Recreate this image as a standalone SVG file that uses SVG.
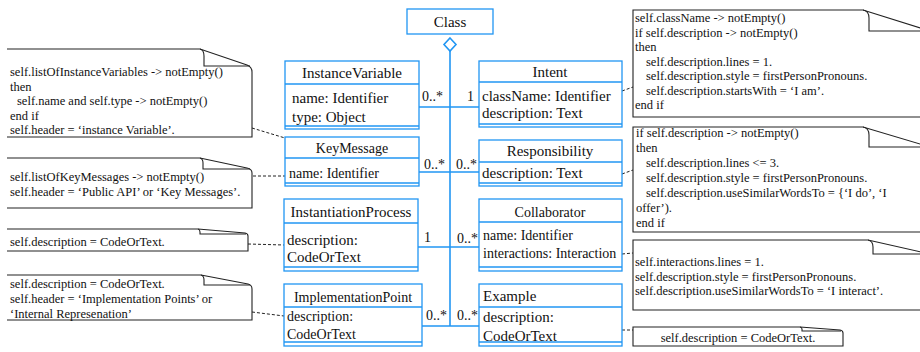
<svg xmlns="http://www.w3.org/2000/svg" width="920" height="352" viewBox="0 0 920 352">
<style>
.box{fill:#fff;stroke:#2196F3;stroke-width:1.3}
.sep{stroke:#2196F3;stroke-width:1.3}
.t15{font-family:"Liberation Serif","Times New Roman",serif;font-size:15px;fill:#111}
.t14{font-family:"Liberation Serif","Times New Roman",serif;font-size:14px;fill:#111}
.c{text-anchor:middle}
.note{fill:#fff;stroke:#222;stroke-width:1.1}
.fold{fill:none;stroke:#222;stroke-width:1.1}
.nt{font-family:"Liberation Serif","Times New Roman",serif;font-size:12.5px;fill:#111}
.assoc{stroke:#2196F3;stroke-width:1.6;fill:none}
.dash{stroke:#222;stroke-width:1;stroke-dasharray:3,2;fill:none}
</style>
<rect width="920" height="352" fill="#fff"/>

<g id="connectors">
<line class="assoc" x1="450" y1="51" x2="450" y2="326"/>
<polygon points="450,38 456,44.5 450,51 444,44.5" fill="#fff" stroke="#2196F3" stroke-width="1.6"/>
<line class="assoc" x1="419" y1="107" x2="479" y2="107"/>
<line class="assoc" x1="419" y1="172" x2="479" y2="172"/>
<line class="assoc" x1="418" y1="247" x2="479" y2="247"/>
<line class="assoc" x1="422" y1="326" x2="479" y2="326"/>
<text class="t14" x="422" y="101">0..*</text>
<text class="t14" x="467" y="101">1</text>
<text class="t14" x="424" y="169">0..*</text>
<text class="t14" x="456" y="169">0..*</text>
<text class="t14" x="424" y="242">1</text>
<text class="t14" x="457" y="243">0..*</text>
<text class="t14" x="426" y="320">0..*</text>
<text class="t14" x="457" y="320">0..*</text>
<line class="dash" x1="252" y1="128" x2="285" y2="138"/>
<line class="dash" x1="253" y1="176" x2="285" y2="176"/>
<line class="dash" x1="248" y1="244" x2="284" y2="245"/>
<line class="dash" x1="252" y1="312" x2="284" y2="316"/>
<line class="dash" x1="622" y1="91" x2="633" y2="87"/>
<line class="dash" x1="622" y1="174" x2="633" y2="170"/>
<line class="dash" x1="622" y1="254" x2="633" y2="253"/>
<line class="dash" x1="622" y1="330" x2="633" y2="330"/>
</g>

<g id="Class">
<rect class="box" x="407" y="9" width="86" height="25"/>
<text class="t15 c" x="450" y="27">Class</text>
</g>

<g id="InstanceVariable">
<rect class="box" x="285" y="61" width="134" height="68"/>
<line class="sep" x1="285" y1="84" x2="419" y2="84"/>
<line class="sep" x1="285" y1="126" x2="419" y2="126"/>
<text class="t15 c" x="352" y="78">InstanceVariable</text>
<text class="t15" x="292" y="103">name: Identifier</text>
<text class="t15" x="292" y="122">type: Object</text>
</g>

<g id="Intent">
<rect class="box" x="479" y="61" width="143" height="66"/>
<line class="sep" x1="479" y1="82" x2="622" y2="82"/>
<line class="sep" x1="479" y1="124" x2="622" y2="124"/>
<text class="t15 c" x="550" y="77">Intent</text>
<text class="t15" x="482" y="101">className: Identifier</text>
<text class="t15" x="482" y="118">description: Text</text>
</g>

<g id="KeyMessage">
<rect class="box" x="285" y="137" width="134" height="49"/>
<line class="sep" x1="285" y1="158" x2="419" y2="158"/>
<line class="sep" x1="285" y1="183" x2="419" y2="183"/>
<text class="t14 c" x="352" y="153">KeyMessage</text>
<text class="t14" x="289" y="178">name: Identifier</text>
</g>

<g id="Responsibility">
<rect class="box" x="479" y="140" width="143" height="46"/>
<line class="sep" x1="479" y1="162" x2="622" y2="162"/>
<line class="sep" x1="479" y1="183" x2="622" y2="183"/>
<text class="t15 c" x="550" y="156">Responsibility</text>
<text class="t15" x="482" y="178">description: Text</text>
</g>

<g id="InstantiationProcess">
<rect class="box" x="284" y="199" width="134" height="72"/>
<line class="sep" x1="284" y1="223" x2="418" y2="223"/>
<line class="sep" x1="284" y1="267" x2="418" y2="267"/>
<text class="t15 c" x="351" y="217">InstantiationProcess</text>
<text class="t15" x="287" y="245">description:</text>
<text class="t15" x="287" y="262">CodeOrText</text>
</g>

<g id="Collaborator">
<rect class="box" x="479" y="199" width="143" height="72"/>
<line class="sep" x1="479" y1="222" x2="622" y2="222"/>
<line class="sep" x1="479" y1="267" x2="622" y2="267"/>
<text class="t14 c" x="550" y="217">Collaborator</text>
<text class="t14" x="483" y="240">name: Identifier</text>
<text class="t14" x="483" y="258">interactions: Interaction</text>
</g>

<g id="ImplementationPoint">
<rect class="box" x="284" y="284" width="138" height="62"/>
<line class="sep" x1="284" y1="307" x2="422" y2="307"/>
<line class="sep" x1="284" y1="342" x2="422" y2="342"/>
<text class="t14 c" x="353" y="302">ImplementationPoint</text>
<text class="t14" x="287" y="321">description:</text>
<text class="t14" x="287" y="339">CodeOrText</text>
</g>

<g id="Example">
<rect class="box" x="479" y="284" width="143" height="62"/>
<line class="sep" x1="479" y1="307" x2="622" y2="307"/>
<line class="sep" x1="479" y1="342" x2="622" y2="342"/>
<text class="t15" x="483" y="301">Example</text>
<text class="t15" x="483" y="322">description:</text>
<text class="t15" x="483" y="341">CodeOrText</text>
</g>

<g id="note-instancevariable">
<path class="note" d="M7,49 H200 L247,65 Q252,67 252,72 V137 H7"/>
<path class="fold" d="M200,49 Q204,50 204,56 V66 H250"/>
<text class="nt" x="10" y="76">self.listOfInstanceVariables -&gt; notEmpty()</text>
<text class="nt" x="10" y="90.5">then</text>
<text class="nt" x="17" y="105">self.name and self.type -&gt; notEmpty()</text>
<text class="nt" x="10" y="119.5">end if</text>
<text class="nt" x="10" y="134">self.header = ‘instance Variable’.</text>
</g>

<g id="note-keymessage">
<path class="note" d="M7,158 H200 L247,168 Q252,169 252,173 V208 H7"/>
<path class="fold" d="M200,158 Q203,159 203,163 V169 H250"/>
<text class="nt" x="10" y="181">self.listOfKeyMessages -&gt; notEmpty()</text>
<text class="nt" x="10" y="196">self.header = ‘Public API’ or ‘Key Messages’.</text>
</g>

<g id="note-instantiation">
<path class="note" d="M7,229 H198 L245,233 Q248,233.5 248,236 V251 H7"/>
<path class="fold" d="M198,229 Q200,229.5 200,232 V234 H246"/>
<text class="nt" x="10" y="246">self.description = CodeOrText.</text>
</g>

<g id="note-implementation">
<path class="note" d="M7,275 H201 L248,284 Q252,285 252,289 V320 H7"/>
<path class="fold" d="M201,275 Q204,276 204,280 V285 H250"/>
<text class="nt" x="10" y="288">self.description = CodeOrText.</text>
<text class="nt" x="10" y="303">self.header = ‘Implementation Points’ or</text>
<text class="nt" x="10" y="318">‘Internal Represenation’</text>
</g>

<g id="note-intent">
<path class="note" d="M633,10 H863 L930,31 V117 H633 Z"/>
<path class="fold" d="M863,10 Q869,11 869,18 V31 H930"/>
<text class="nt" x="635" y="22">self.className -&gt; notEmpty()</text>
<text class="nt" x="635" y="36.5">if self.description -&gt; notEmpty()</text>
<text class="nt" x="635" y="51">then</text>
<text class="nt" x="646" y="65.5">self.description.lines = 1.</text>
<text class="nt" x="646" y="80">self.description.style =  firstPersonPronouns.</text>
<text class="nt" x="646" y="94.5">self.description.startsWith =  ‘I am’.</text>
<text class="nt" x="635" y="109">end if</text>
</g>

<g id="note-responsibility">
<path class="note" d="M633,127 H863 L930,147 V232 H633 Z"/>
<path class="fold" d="M863,127 Q869,128 869,135 V147 H930"/>
<text class="nt" x="636" y="137">if self.description -&gt; notEmpty()</text>
<text class="nt" x="636" y="152">then</text>
<text class="nt" x="646" y="167">self.description.lines &lt;= 3.</text>
<text class="nt" x="646" y="182">self.description.style = firstPersonPronouns.</text>
<text class="nt" x="646" y="197">self.description.useSimilarWordsTo = {‘I do’, ‘I</text>
<text class="nt" x="636" y="212">offer’).</text>
<text class="nt" x="636" y="227">end if</text>
</g>

<g id="note-collaborator">
<path class="note" d="M633,240 H868 L930,254 V310 H633 Z"/>
<path class="fold" d="M868,240 Q873,241 873,247 V254 H930"/>
<text class="nt" x="635" y="266">self.interactions.lines = 1.</text>
<text class="nt" x="635" y="281">self.description.style = firstPersonPronouns.</text>
<text class="nt" x="635" y="295">self.description.useSimilarWordsTo =  ‘I interact’.</text>
</g>

<g id="note-example">
<path class="note" d="M633,327 H800 L840,330 Q843,330.5 843,333 V346 H633 Z"/>
<path class="fold" d="M800,327 Q802,327.5 802,329 V331 H841"/>
<text class="nt" x="738" y="342" text-anchor="middle">self.description = CodeOrText.</text>
</g>
</svg>
